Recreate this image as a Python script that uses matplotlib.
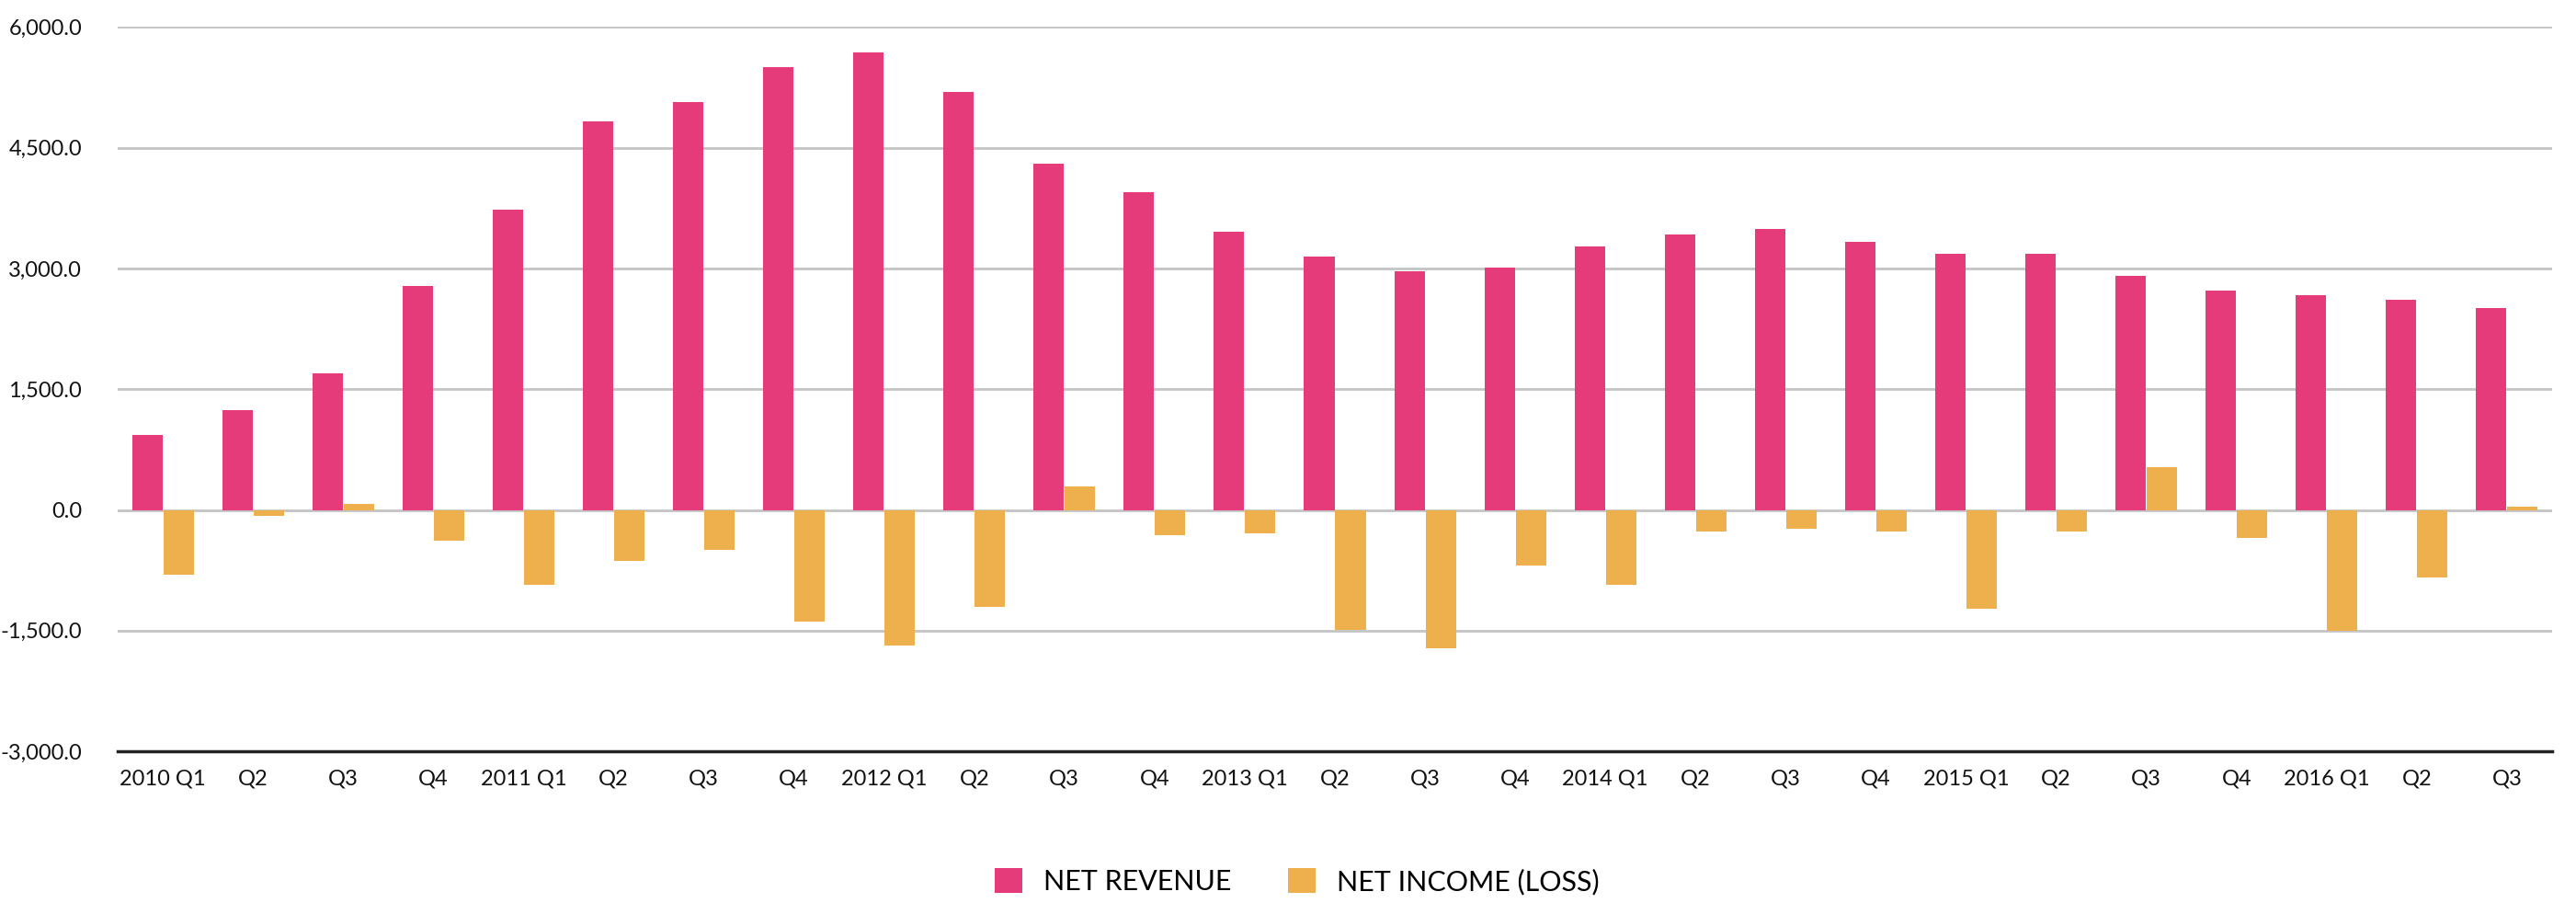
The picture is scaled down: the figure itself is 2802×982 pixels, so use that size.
import matplotlib
matplotlib.use("Agg")
import matplotlib.pyplot as plt
import numpy as np

categories = ["2010 Q1", "Q2", "Q3", "Q4",
              "2011 Q1", "Q2", "Q3", "Q4",
              "2012 Q1", "Q2", "Q3", "Q4",
              "2013 Q1", "Q2", "Q3", "Q4",
              "2014 Q1", "Q2", "Q3", "Q4",
              "2015 Q1", "Q2", "Q3", "Q4",
              "2016 Q1", "Q2", "Q3"]
net_revenue = [936, 1236, 1693, 2786,
               3729, 4829, 5071, 5500,
               5686, 5193, 4307, 3950,
               3457, 3150, 2971, 3007,
               3271, 3421, 3493, 3329,
               3186, 3186, 2907, 2721,
               2671, 2607, 2507]
net_income = [-807, -79, 79, -386,
              -936, -629, -500, -1393,
              -1686, -1200, 293, -314,
              -293, -1486, -1721, -686,
              -936, -264, -229, -264,
              -1229, -264, 536, -350,
              -1500, -836, 43]
yticks = [-3000, -1500, 0, 1500, 3000, 4500, 6000]
series_names = ["NET REVENUE", "NET INCOME (LOSS)"]

PINK = "#E53B7A"
ORANGE = "#EEB04C"

plt.rcParams['font.family'] = ['Lato', 'DejaVu Sans']

fig = plt.figure(figsize=(28.02, 9.82), dpi=100)
ax = fig.add_axes([0.0457, 0.168, 0.9450, 0.802])

x = np.arange(len(categories))
w = 0.337
ax.bar(x - w / 2 - 0.005, net_revenue, width=w, color=PINK, label=series_names[0], zorder=3)
ax.bar(x + w / 2 + 0.005, net_income, width=w, color=ORANGE, label=series_names[1], zorder=3)

ax.set_xlim(-0.5, len(categories) - 0.5)
ax.set_ylim(-3000, 6000)
ax.set_yticks(yticks)
ax.set_yticklabels([f"{v:,.1f}" for v in yticks])
ax.set_xticks(x)
ax.set_xticklabels(categories)

for v in yticks:
    if v == -3000:
        continue
    ax.axhline(v, color="#C4C4C4", lw=2.0, zorder=1)

for s in ["top", "right", "left"]:
    ax.spines[s].set_visible(False)
ax.spines["bottom"].set_color("#222222")
ax.spines["bottom"].set_linewidth(2.5)
ax.spines["bottom"].set_zorder(4)

ax.tick_params(axis="both", length=0, labelsize=17, colors="#111111")
ax.tick_params(axis="y", pad=28)
ax.tick_params(axis="x", pad=14)

fig.legend(loc="center", bbox_to_anchor=(0.5035, 0.024), ncol=2, frameon=False,
           fontsize=22, handlelength=1.0, handleheight=1.0, handletextpad=0.75,
           columnspacing=2.0)

fig.savefig("out.png", dpi=100)
